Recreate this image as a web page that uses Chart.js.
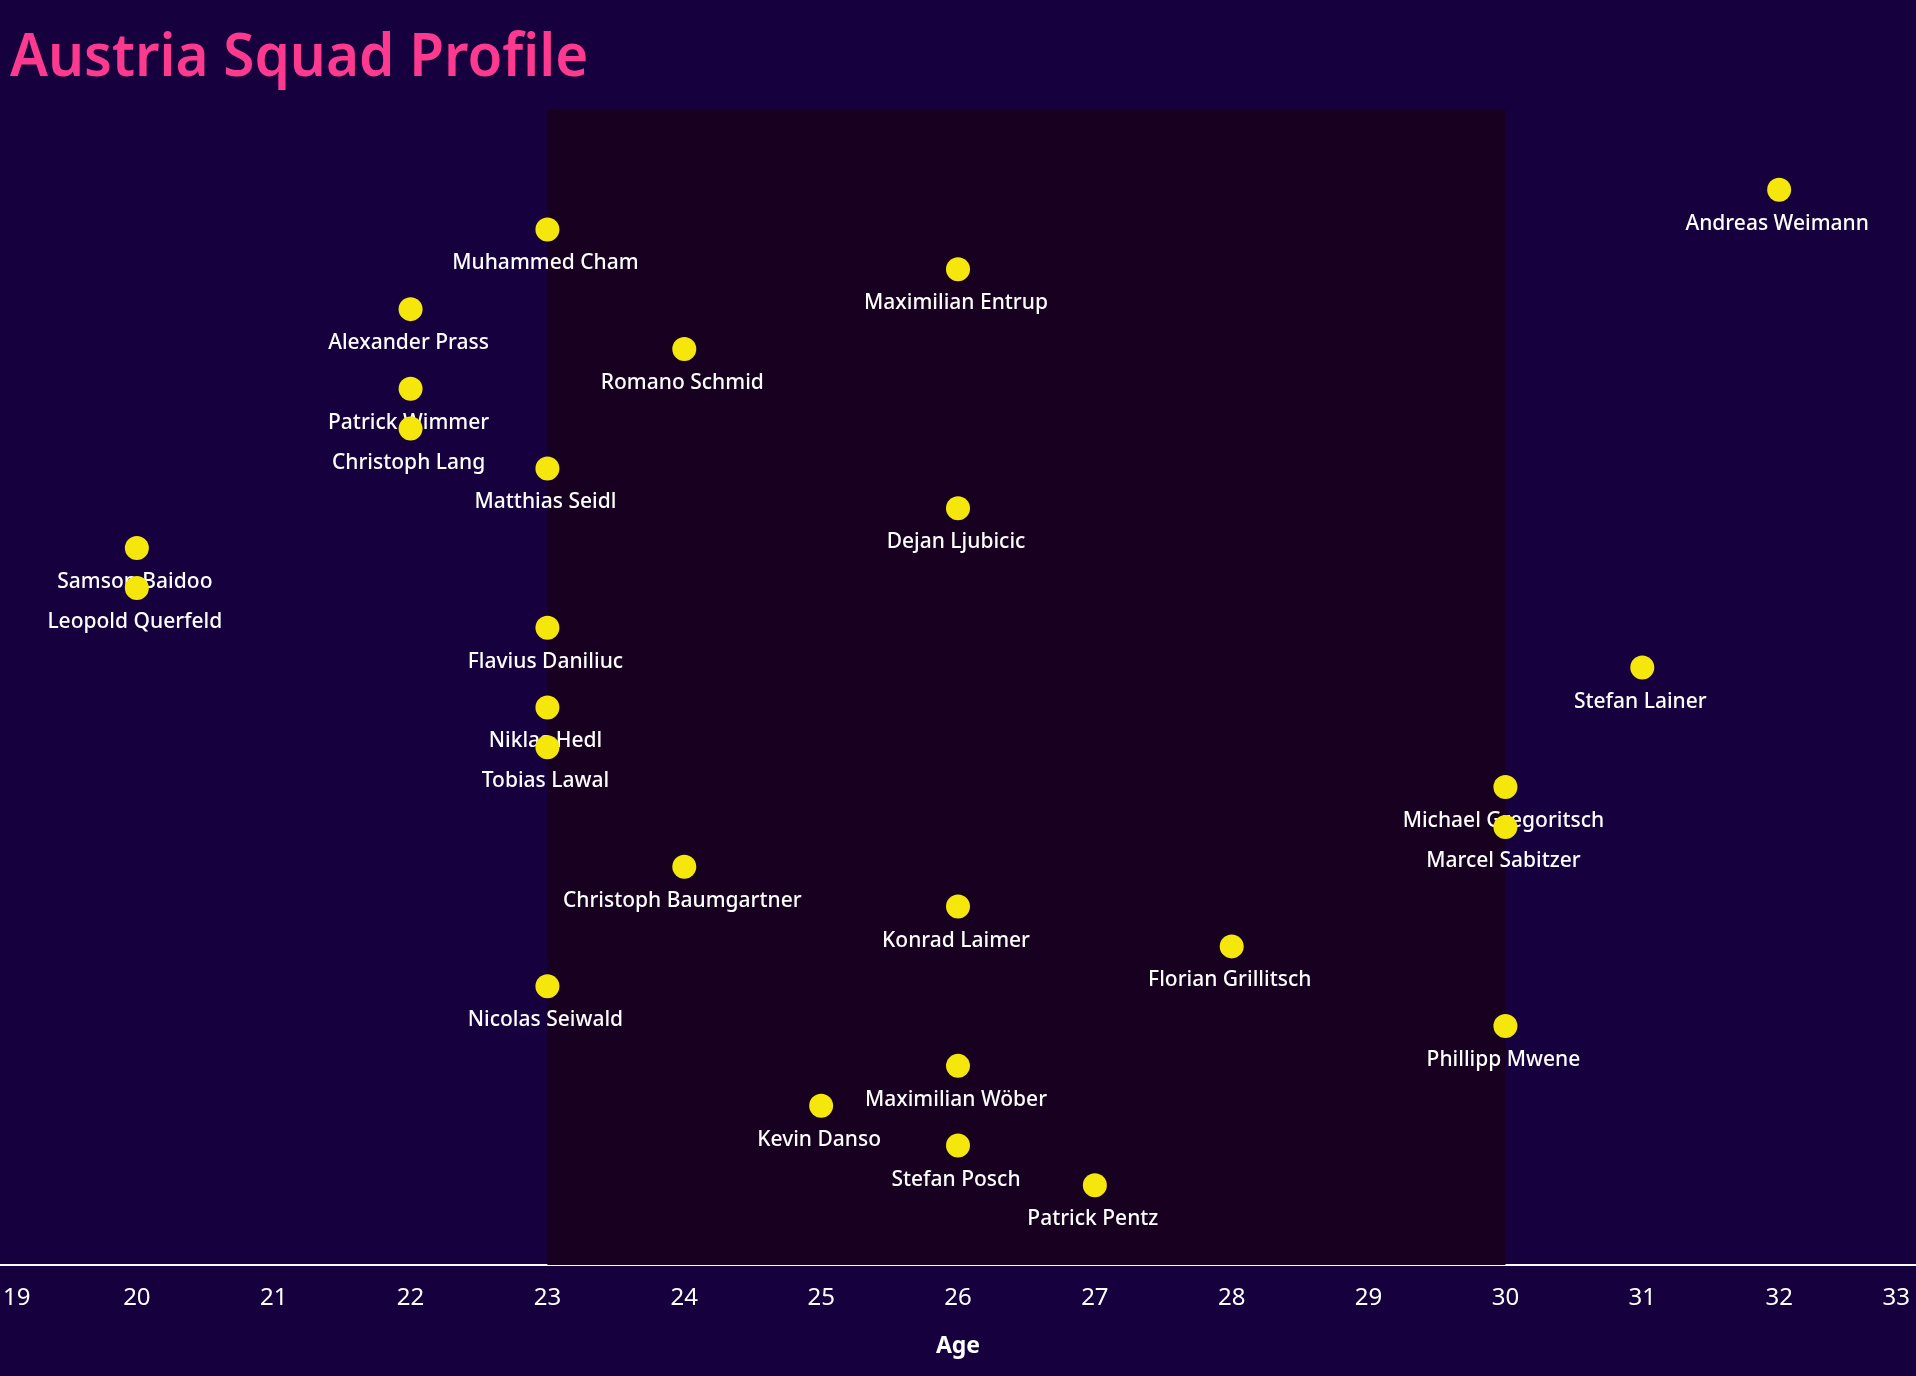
<!DOCTYPE html>
<html>
<head>
<meta charset="utf-8">
<title>Austria Squad Profile</title>
<script src="https://cdn.jsdelivr.net/npm/chart.js@4.4.1/dist/chart.umd.min.js"></script>
<style>
  html, body { margin: 0; padding: 0; background: #16003d; }
  #wrap { position: relative; width: 1916px; height: 1376px; }
  #title {
    position: absolute; left: 10px; top: 23px; margin: 0;
    font-family: 'Noto Sans', sans-serif; font-weight: 600; font-size: 60px;
    line-height: 1; color: #fd3a8f; white-space: nowrap; transform-origin: left top;
  }
</style>
</head>
<body>
<div id="wrap">
  <h1 id="title">Austria Squad Profile</h1>
  <canvas id="squadChart"></canvas>
</div>
<script>
// players, top row first
const players = [
  'Andreas Weimann', 'Muhammed Cham', 'Maximilian Entrup', 'Alexander Prass', 'Romano Schmid',
  'Patrick Wimmer', 'Christoph Lang', 'Matthias Seidl', 'Dejan Ljubicic', 'Samson Baidoo',
  'Leopold Querfeld', 'Flavius Daniliuc', 'Stefan Lainer', 'Niklas Hedl', 'Tobias Lawal',
  'Michael Gregoritsch', 'Marcel Sabitzer', 'Christoph Baumgartner', 'Konrad Laimer', 'Florian Grillitsch',
  'Nicolas Seiwald', 'Phillipp Mwene', 'Maximilian Wöber', 'Kevin Danso', 'Stefan Posch', 'Patrick Pentz'
];
const ages = [32, 23, 26, 22, 24, 22, 22, 23, 26, 20, 20, 23, 31, 23, 23, 30, 30, 24, 26, 28, 23, 30, 26, 25, 26, 27];
const rows = [1, 2, 3, 4, 5, 6, 7, 8, 9, 10, 11, 12, 13, 14, 15, 16, 17, 18, 19, 20, 21, 22, 23, 24, 25, 26];
const ageTicks = [19, 20, 21, 22, 23, 24, 25, 26, 27, 28, 29, 30, 31, 32, 33];
const primeAge = [23, 30];

const FONT = "'Noto Sans', sans-serif";

// fit the title to the reference width
const titleEl = document.getElementById('title');
titleEl.style.transform = 'scaleX(' + (578 / titleEl.offsetWidth) + ')';

const bandPlugin = {
  id: 'primeBand',
  beforeDatasetsDraw(chart) {
    const {ctx, chartArea, scales: {x}} = chart;
    const x0 = x.getPixelForValue(primeAge[0]);
    const x1 = x.getPixelForValue(primeAge[1]);
    ctx.save();
    ctx.fillStyle = '#170020';
    ctx.fillRect(x0, chartArea.top, x1 - x0, chartArea.bottom - chartArea.top);

    // names under the dots (dots are drawn on top)
    const meta = chart.getDatasetMeta(0);
    ctx.fillStyle = '#ffffff';
    ctx.font = '500 21px ' + FONT;
    ctx.textAlign = 'center';
    ctx.textBaseline = 'middle';
    meta.data.forEach((pt, i) => {
      ctx.fillText(players[i], pt.x - 2, pt.y + 34);
    });
    ctx.restore();
  }
};

const tickPlugin = {
  id: 'ageTicks',
  afterDraw(chart) {
    const {ctx, scales: {x}} = chart;
    ctx.save();
    ctx.fillStyle = '#ffffff';
    ctx.font = '24px ' + FONT;
    ctx.textAlign = 'center';
    ctx.textBaseline = 'middle';
    ageTicks.forEach(v => {
      const label = String(v);
      const w = ctx.measureText(label).width;
      let px = x.getPixelForValue(v);
      px = Math.min(Math.max(px, w / 2 + 3), chart.width - w / 2 - 6);
      ctx.fillText(label, px, 1298);
    });
    ctx.restore();
  }
};

const ctx = document.getElementById('squadChart').getContext('2d');
new Chart(ctx, {
  type: 'scatter',
  data: {
    datasets: [{
      data: ages.map((a, i) => ({x: a, y: rows[i]})),
      pointRadius: 12,
      pointHoverRadius: 12,
      backgroundColor: '#f5e60b',
      borderWidth: 0
    }]
  },
  options: {
    responsive: true,
    maintainAspectRatio: false,
    animation: false,
    layout: { autoPadding: false, padding: { top: 110, left: 0, right: 0, bottom: 0 } },
    plugins: { legend: { display: false }, tooltip: { enabled: false } },
    scales: {
      x: {
        type: 'linear', min: 19, max: 33,
        grid: { display: false },
        border: { display: true, color: '#ffffff', width: 2 },
        ticks: { display: false, stepSize: 1 },
        title: { display: true, text: 'Age', color: '#ffffff', font: { family: FONT, size: 23, weight: 'bold' }, padding: { top: 0, bottom: 16 } },
        afterFit: s => { s.height = 111; s.paddingLeft = 0; s.paddingRight = 0; }
      },
      y: { display: false, min: -1, max: 28, reverse: true }
    }
  },
  plugins: [bandPlugin, tickPlugin]
});
</script>
</body>
</html>
